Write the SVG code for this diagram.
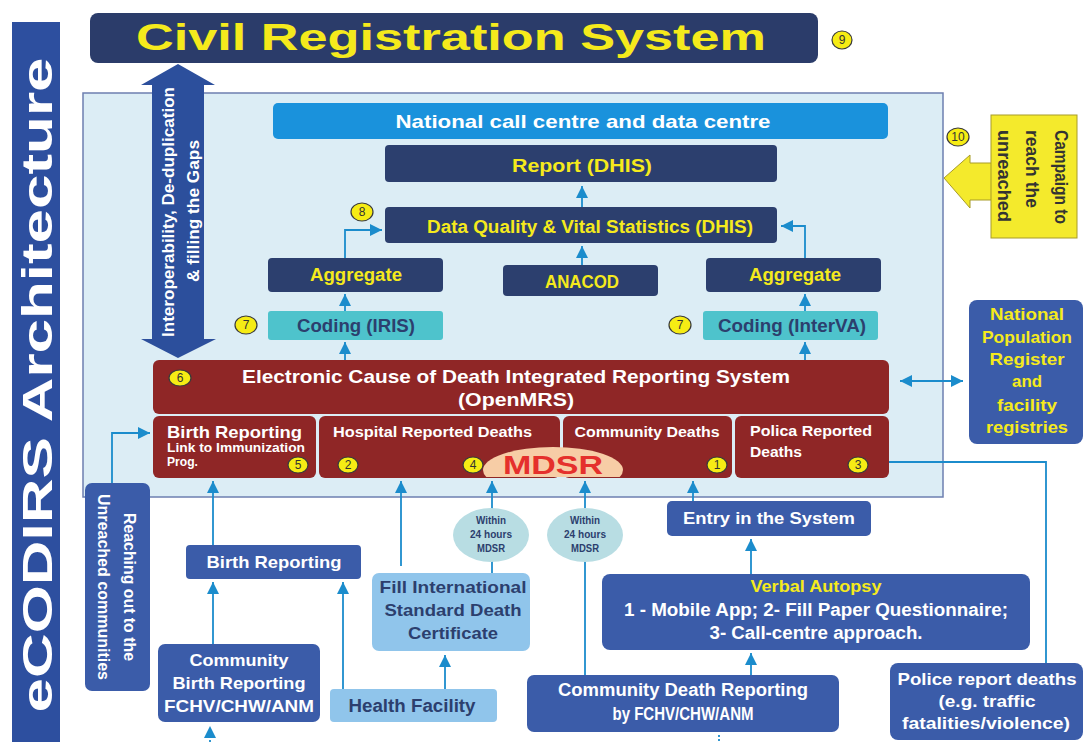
<svg xmlns="http://www.w3.org/2000/svg" width="1086" height="742" viewBox="0 0 1086 742">
<defs>
<style>
text{font-family:"Liberation Sans",Arial,sans-serif;font-weight:bold}
.navy{fill:#2c3f6e}
.mid{fill:#3b5ca9}
.lt{fill:#90c5eb}
.teal{fill:#4ec3cc}
.red{fill:#8f2626}
.yt{fill:#f5ea1c}
.wt{fill:#ffffff}
.dk{fill:#2c3f6e}
.num circle,.num ellipse{fill:#f6ec14;stroke:#3a3a3a;stroke-width:1.2}
.num text{font-size:12px;fill:#333;font-weight:normal;text-anchor:middle}
.c{fill:none;stroke:#1b8ccc;stroke-width:1.8}
.m{text-anchor:middle}
</style>
<marker id="ah" viewBox="0 0 10 10" refX="10" refY="5" markerWidth="12" markerHeight="12" markerUnits="userSpaceOnUse" orient="auto-start-reverse"><path d="M0,0 L10,5 L0,10 z" fill="#1b8ccc"/></marker>
<clipPath id="mclip"><rect x="480" y="440" width="150" height="37"/></clipPath>
</defs>
<rect width="1086" height="742" fill="#ffffff"/>

<g id="side-title">
<rect x="12" y="22" width="48" height="720" fill="#2d4f9f"/>
<text transform="translate(52,385) rotate(-90)" class="m wt" font-size="42" textLength="655" lengthAdjust="spacingAndGlyphs">eCODIRS Architecture</text>
</g>

<g id="civil-registration">
<rect x="90" y="13" width="728" height="50" rx="8" fill="#2b3c6a"/>
<text x="451" y="50" class="m yt" font-size="36" textLength="630" lengthAdjust="spacingAndGlyphs">Civil Registration System</text>
</g>
<g class="num" id="n9"><ellipse cx="842" cy="40" rx="10" ry="9"/><text x="842" y="44">9</text></g>

<g id="panel"><rect x="83" y="93" width="860" height="404" fill="#dcedf5" stroke="#6d7fb0" stroke-width="1.5"/></g>

<g id="connectors">
<path class="c" d="M582 207 V186" marker-end="url(#ah)"/>
<path class="c" d="M582 265 V246" marker-end="url(#ah)"/>
<path class="c" d="M345 258 V230 H382" marker-end="url(#ah)"/>
<path class="c" d="M805 258 V226 H781" marker-end="url(#ah)"/>
<path class="c" d="M345 311 V294" marker-end="url(#ah)"/>
<path class="c" d="M345 360 V342" marker-end="url(#ah)"/>
<path class="c" d="M805 311 V294" marker-end="url(#ah)"/>
<path class="c" d="M805 360 V342" marker-end="url(#ah)"/>
<path class="c" d="M900 381 H963" marker-start="url(#ah)" marker-end="url(#ah)"/>
<path class="c" d="M112 483 V433 H150" marker-end="url(#ah)"/>
<path class="c" d="M213 545 V481" marker-end="url(#ah)"/>
<path class="c" d="M213 644 V582" marker-end="url(#ah)"/>
<path class="c" d="M343 689 V582" marker-end="url(#ah)"/>
<path class="c" d="M401 566 V481" marker-end="url(#ah)"/>
<path class="c" d="M445 689 V655" marker-end="url(#ah)"/>
<path class="c" d="M492 573 V481" marker-end="url(#ah)"/>
<path class="c" d="M585 675 V481" marker-end="url(#ah)"/>
<path class="c" d="M693 501 V481" marker-end="url(#ah)"/>
<path class="c" d="M751 574 V539" marker-end="url(#ah)"/>
<path class="c" d="M751 675 V653" marker-end="url(#ah)"/>
<path class="c" d="M889 462 H1046 V663"/>
<path class="c" d="M210 742 V726" stroke-dasharray="2 2" marker-end="url(#ah)"/>
<path class="c" d="M719 735 V742" stroke-dasharray="2 2"/>
</g>

<g id="interop-arrow">
<path d="M178 64 L215 85 L204 85 L204 339 L216 339 L178 358 L141 339 L152 339 L152 85 L141 85 Z" fill="#2c4f9c"/>
<text transform="translate(174,212) rotate(-90)" class="m wt" font-size="16" textLength="250" lengthAdjust="spacingAndGlyphs">Interoperability, De-duplication</text>
<text transform="translate(199,211) rotate(-90)" class="m wt" font-size="16" textLength="142" lengthAdjust="spacingAndGlyphs">&amp; filling the Gaps</text>
</g>

<g id="national-call-centre">
<rect x="273" y="103" width="615" height="36" rx="5" fill="#1a92dc"/>
<text x="583" y="128" class="m wt" font-size="19" textLength="375" lengthAdjust="spacingAndGlyphs">National call centre and data centre</text>
</g>
<g id="report-dhis">
<rect x="385" y="145" width="392" height="37" rx="4" class="navy"/>
<text x="582" y="172" class="m yt" font-size="19" textLength="140" lengthAdjust="spacingAndGlyphs">Report (DHIS)</text>
</g>
<g id="data-quality">
<rect x="385" y="207" width="392" height="36" rx="4" class="navy"/>
<text x="590" y="233" class="m yt" font-size="18" textLength="326" lengthAdjust="spacingAndGlyphs">Data Quality &amp; Vital Statistics (DHIS)</text>
</g>
<g class="num" id="n8"><ellipse cx="362" cy="212" rx="11" ry="9"/><text x="362" y="216">8</text></g>

<g id="aggregate-left">
<rect x="268" y="258" width="175" height="34" rx="4" class="navy"/>
<text x="356" y="281" class="m yt" font-size="18" textLength="92" lengthAdjust="spacingAndGlyphs">Aggregate</text>
</g>
<g id="anacod">
<rect x="503" y="265" width="155" height="31" rx="4" class="navy"/>
<text x="582" y="288" class="m yt" font-size="19" textLength="74" lengthAdjust="spacingAndGlyphs">ANACOD</text>
</g>
<g id="aggregate-right">
<rect x="706" y="258" width="175" height="34" rx="4" class="navy"/>
<text x="795" y="281" class="m yt" font-size="18" textLength="92" lengthAdjust="spacingAndGlyphs">Aggregate</text>
</g>

<g id="coding-iris">
<rect x="268" y="311" width="175" height="29" rx="3" class="teal"/>
<text x="356" y="332" class="m dk" font-size="18" textLength="118" lengthAdjust="spacingAndGlyphs">Coding (IRIS)</text>
</g>
<g class="num" id="n7a"><ellipse cx="246" cy="325" rx="11" ry="9"/><text x="246" y="329">7</text></g>
<g id="coding-interva">
<rect x="703" y="311" width="175" height="29" rx="3" class="teal"/>
<text x="792" y="332" class="m dk" font-size="18" textLength="148" lengthAdjust="spacingAndGlyphs">Coding (InterVA)</text>
</g>
<g class="num" id="n7b"><ellipse cx="680" cy="325" rx="11" ry="9"/><text x="680" y="329">7</text></g>

<g id="ecdirs">
<rect x="153" y="360" width="736" height="54" rx="6" class="red"/>
<text x="516" y="383" class="m wt" font-size="19" textLength="548" lengthAdjust="spacingAndGlyphs">Electronic Cause of Death Integrated Reporting System</text>
<text x="516" y="406" class="m wt" font-size="19" textLength="116" lengthAdjust="spacingAndGlyphs">(OpenMRS)</text>
</g>
<g class="num" id="n6"><ellipse cx="180" cy="378" rx="11" ry="8"/><text x="180" y="382">6</text></g>

<g id="birth-reporting-sub">
<rect x="153" y="416" width="163" height="62" rx="6" class="red"/>
<text x="167" y="438" class="wt" font-size="17" textLength="135" lengthAdjust="spacingAndGlyphs">Birth Reporting</text>
<text x="167" y="452" class="wt" font-size="12.5" textLength="138" lengthAdjust="spacingAndGlyphs">Link to Immunization</text>
<text x="167" y="466" class="wt" font-size="12.5" textLength="31" lengthAdjust="spacingAndGlyphs">Prog.</text>
</g>
<g class="num" id="n5"><ellipse cx="298" cy="465" rx="10" ry="8"/><text x="298" y="469">5</text></g>

<g id="hospital-deaths">
<rect x="319" y="416" width="241" height="62" rx="6" class="red"/>
<text x="333" y="437" class="wt" font-size="14" textLength="199" lengthAdjust="spacingAndGlyphs">Hospital Reported Deaths</text>
</g>
<g class="num" id="n2"><ellipse cx="348" cy="465" rx="10" ry="8"/><text x="348" y="469">2</text></g>

<g id="community-deaths">
<rect x="563" y="416" width="169" height="62" rx="6" class="red"/>
<text x="647" y="437" class="m wt" font-size="14" textLength="145" lengthAdjust="spacingAndGlyphs">Community Deaths</text>
</g>
<g class="num" id="n1"><ellipse cx="717" cy="465" rx="10" ry="8"/><text x="717" y="469">1</text></g>

<g id="mdsr">
<ellipse cx="553" cy="470" rx="70" ry="23" fill="#f7cda6" clip-path="url(#mclip)"/>
<text x="553" y="474" class="m" font-size="25" fill="#e5302c" textLength="100" lengthAdjust="spacingAndGlyphs">MDSR</text>
</g>
<g class="num" id="n4"><ellipse cx="473" cy="465" rx="10" ry="8"/><text x="473" y="469">4</text></g>

<g id="police-deaths-sub">
<rect x="735" y="416" width="154" height="62" rx="6" class="red"/>
<text x="750" y="436" class="wt" font-size="14" textLength="122" lengthAdjust="spacingAndGlyphs">Polica Reported</text>
<text x="750" y="457" class="wt" font-size="14" textLength="52" lengthAdjust="spacingAndGlyphs">Deaths</text>
</g>
<g class="num" id="n3"><ellipse cx="858" cy="465" rx="10" ry="8"/><text x="858" y="469">3</text></g>

<g id="campaign">
<path d="M944 178 L970 155 L970 163 L992 163 L992 200 L970 200 L970 208 Z" fill="#f4ea2c" stroke="#a89c28" stroke-width="1"/>
<rect x="991" y="115" width="86" height="123" fill="#f4ea2c" stroke="#a89c28" stroke-width="1"/>
<text transform="translate(1055,130) rotate(90)" fill="#333" font-size="18" textLength="94" lengthAdjust="spacingAndGlyphs">Campaign to</text>
<text transform="translate(1026,130) rotate(90)" fill="#333" font-size="18" textLength="78" lengthAdjust="spacingAndGlyphs">reach the</text>
<text transform="translate(998,130) rotate(90)" fill="#333" font-size="18" textLength="92" lengthAdjust="spacingAndGlyphs">unreached</text>
</g>
<g class="num" id="n10"><ellipse cx="958" cy="137" rx="11" ry="9"/><text x="958" y="141">10</text></g>

<g id="npr">
<rect x="969" y="300" width="114" height="144" rx="8" class="mid"/>
<text x="1027" y="320" class="m yt" font-size="17" textLength="74" lengthAdjust="spacingAndGlyphs">National</text>
<text x="1027" y="343" class="m yt" font-size="17" textLength="90" lengthAdjust="spacingAndGlyphs">Population</text>
<text x="1027" y="365" class="m yt" font-size="17" textLength="75" lengthAdjust="spacingAndGlyphs">Register</text>
<text x="1027" y="387" class="m yt" font-size="17" textLength="30" lengthAdjust="spacingAndGlyphs">and</text>
<text x="1027" y="411" class="m yt" font-size="17" textLength="60" lengthAdjust="spacingAndGlyphs">facility</text>
<text x="1027" y="433" class="m yt" font-size="17" textLength="82" lengthAdjust="spacingAndGlyphs">registries</text>
</g>

<g id="reaching-out">
<rect x="85" y="483" width="65" height="208" rx="7" class="mid"/>
<text transform="translate(124,587) rotate(90)" class="m wt" font-size="16" textLength="148" lengthAdjust="spacingAndGlyphs">Reaching out to the</text>
<text transform="translate(98,587) rotate(90)" class="m wt" font-size="16" textLength="186" lengthAdjust="spacingAndGlyphs">Unreached communities</text>
</g>

<g id="birth-reporting">
<rect x="186" y="545" width="175" height="34" rx="4" class="mid"/>
<text x="274" y="568" class="m wt" font-size="17" textLength="135" lengthAdjust="spacingAndGlyphs">Birth Reporting</text>
</g>

<g id="community-birth">
<rect x="158" y="644" width="162" height="78" rx="7" class="mid"/>
<text x="239" y="666" class="m wt" font-size="17" textLength="99" lengthAdjust="spacingAndGlyphs">Community</text>
<text x="239" y="689" class="m wt" font-size="17" textLength="133" lengthAdjust="spacingAndGlyphs">Birth Reporting</text>
<text x="239" y="712" class="m wt" font-size="17" textLength="150" lengthAdjust="spacingAndGlyphs">FCHV/CHW/ANM</text>
</g>

<g id="health-facility">
<rect x="330" y="689" width="167" height="33" rx="4" class="lt"/>
<text x="412" y="712" class="m dk" font-size="18" textLength="127" lengthAdjust="spacingAndGlyphs">Health Facility</text>
</g>

<g id="fill-certificate">
<rect x="372" y="573" width="158" height="78" rx="7" class="lt"/>
<text x="453" y="593" class="m dk" font-size="17" textLength="147" lengthAdjust="spacingAndGlyphs">Fill International</text>
<text x="453" y="616" class="m dk" font-size="17" textLength="137" lengthAdjust="spacingAndGlyphs">Standard Death</text>
<text x="453" y="639" class="m dk" font-size="17" textLength="90" lengthAdjust="spacingAndGlyphs">Certificate</text>
</g>

<g id="within-1">
<ellipse cx="491" cy="535" rx="38" ry="27" fill="#b8dde3"/>
<text x="491" y="524" class="m dk" font-size="10" textLength="30" lengthAdjust="spacingAndGlyphs">Within</text>
<text x="491" y="538" class="m dk" font-size="10" textLength="42" lengthAdjust="spacingAndGlyphs">24 hours</text>
<text x="491" y="552" class="m dk" font-size="10" textLength="28" lengthAdjust="spacingAndGlyphs">MDSR</text>
</g>
<g id="within-2">
<ellipse cx="585" cy="535" rx="38" ry="27" fill="#b8dde3"/>
<text x="585" y="524" class="m dk" font-size="10" textLength="30" lengthAdjust="spacingAndGlyphs">Within</text>
<text x="585" y="538" class="m dk" font-size="10" textLength="42" lengthAdjust="spacingAndGlyphs">24 hours</text>
<text x="585" y="552" class="m dk" font-size="10" textLength="28" lengthAdjust="spacingAndGlyphs">MDSR</text>
</g>

<g id="entry-system">
<rect x="667" y="501" width="204" height="35" rx="5" class="mid"/>
<text x="769" y="524" class="m wt" font-size="17" textLength="172" lengthAdjust="spacingAndGlyphs">Entry in the System</text>
</g>

<g id="verbal-autopsy">
<rect x="602" y="574" width="428" height="76" rx="8" class="mid"/>
<text x="816" y="592" class="m yt" font-size="17" textLength="131" lengthAdjust="spacingAndGlyphs">Verbal Autopsy</text>
<text x="816" y="616" class="m wt" font-size="18" textLength="384" lengthAdjust="spacingAndGlyphs">1 - Mobile App; 2- Fill Paper Questionnaire;</text>
<text x="816" y="639" class="m wt" font-size="18" textLength="213" lengthAdjust="spacingAndGlyphs">3- Call-centre approach.</text>
</g>

<g id="community-death-reporting">
<rect x="527" y="675" width="312" height="57" rx="7" class="mid"/>
<text x="683" y="696" class="m wt" font-size="18" textLength="250" lengthAdjust="spacingAndGlyphs">Community Death Reporting</text>
<text x="683" y="720" class="m wt" font-size="18" textLength="141" lengthAdjust="spacingAndGlyphs">by FCHV/CHW/ANM</text>
</g>

<g id="police-report">
<rect x="890" y="663" width="193" height="77" rx="8" class="mid"/>
<text x="987" y="685" class="m wt" font-size="17" textLength="179" lengthAdjust="spacingAndGlyphs">Police report deaths</text>
<text x="987" y="707" class="m wt" font-size="17" textLength="97" lengthAdjust="spacingAndGlyphs">(e.g. traffic</text>
<text x="986" y="729" class="m wt" font-size="17" textLength="168" lengthAdjust="spacingAndGlyphs">fatalities/violence)</text>
</g>
</svg>
